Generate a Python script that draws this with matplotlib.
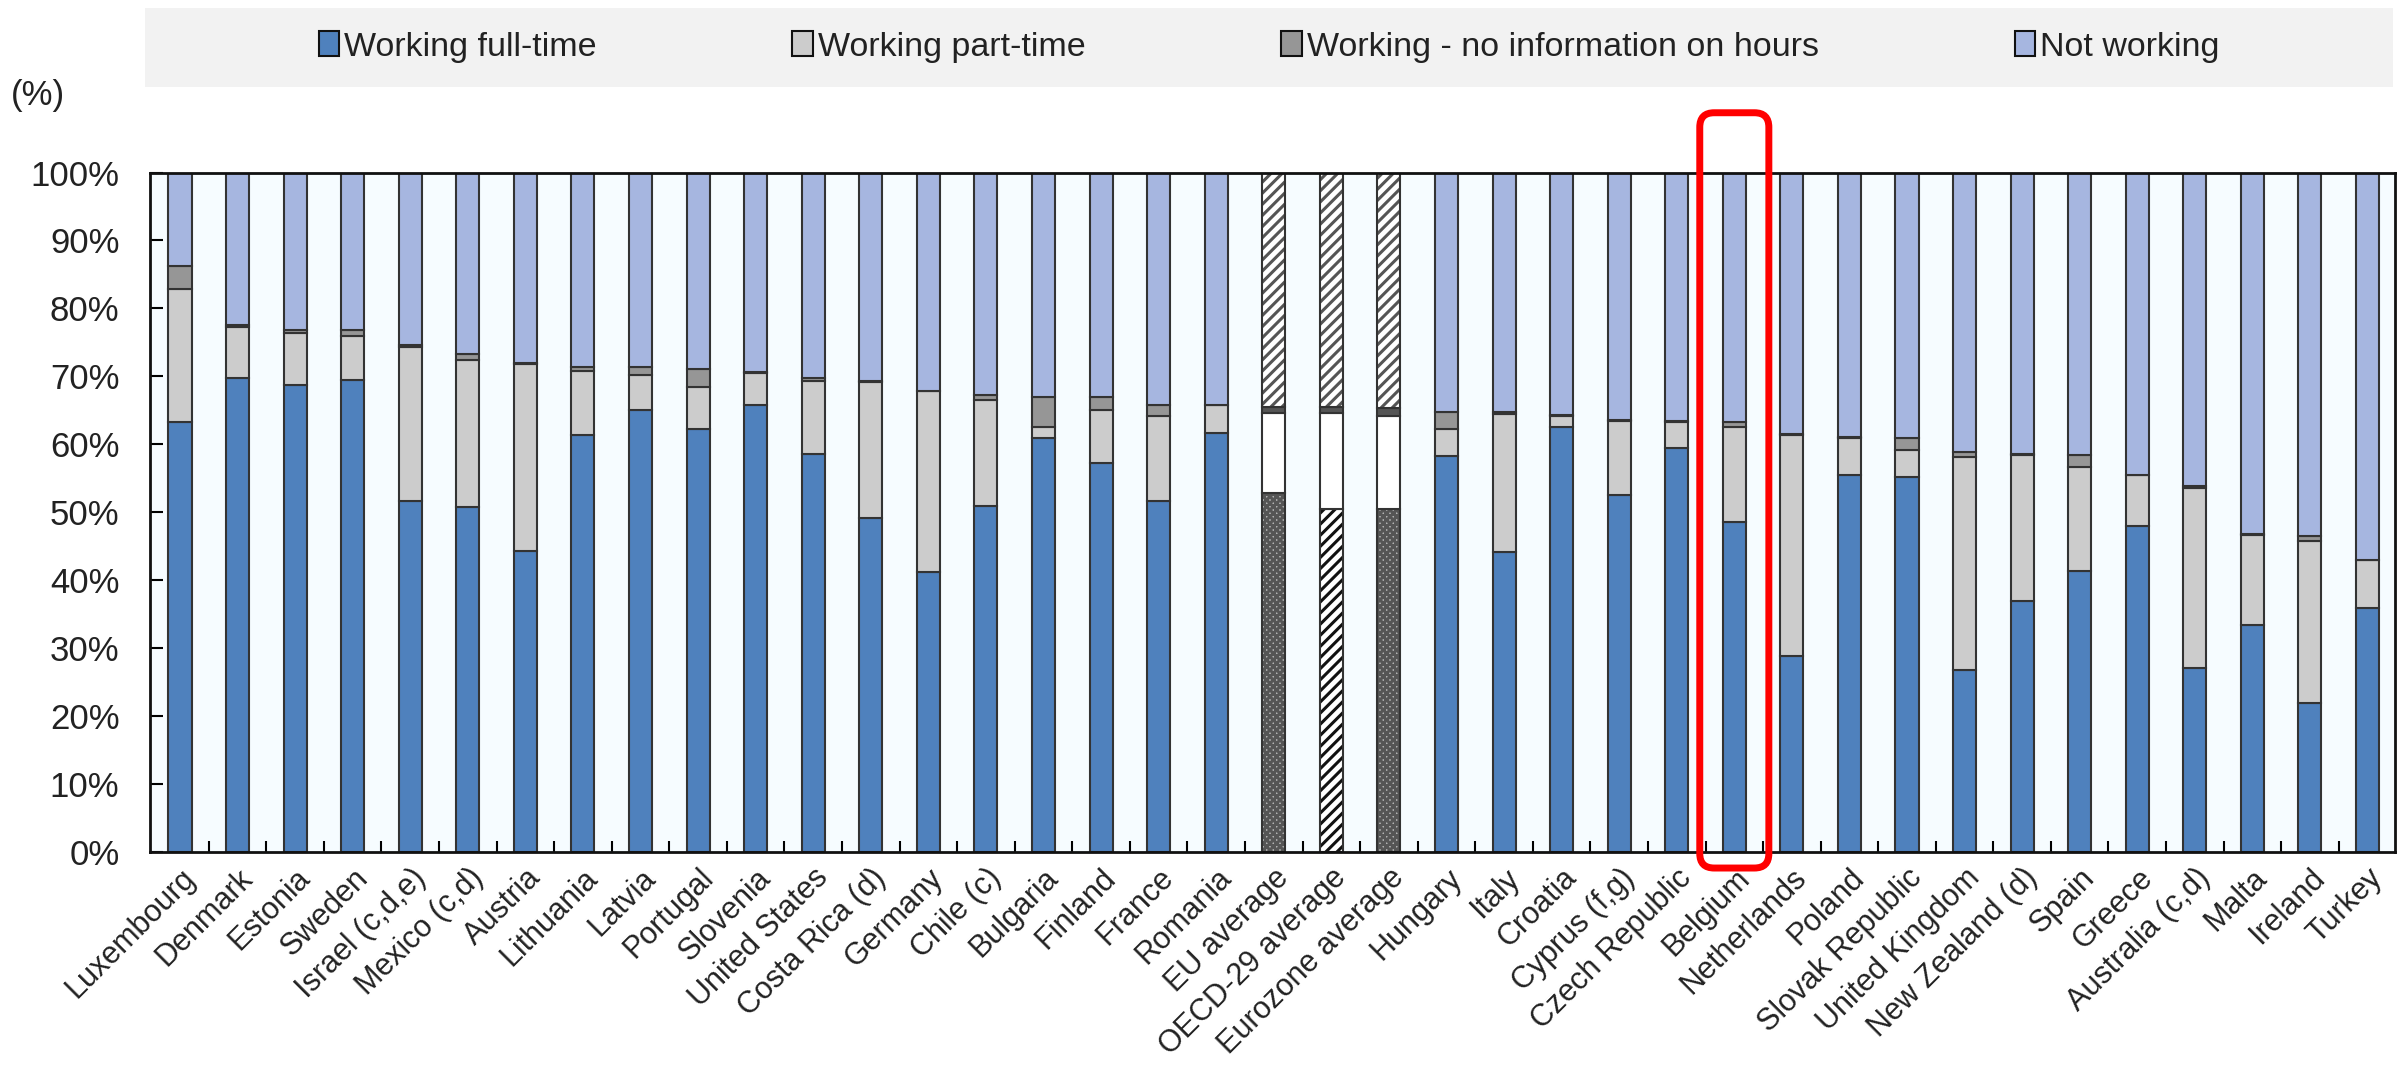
import matplotlib
matplotlib.use("Agg")
import matplotlib.pyplot as plt
from matplotlib.patches import FancyBboxPatch, Rectangle, Patch
import numpy as np

plt.rcParams['font.family'] = ['Liberation Sans', 'DejaVu Sans']
plt.rcParams['hatch.linewidth'] = 2.2

COUNTRIES = ["Luxembourg", "Denmark", "Estonia", "Sweden", "Israel (c,d,e)", "Mexico (c,d)",
             "Austria", "Lithuania", "Latvia", "Portugal", "Slovenia", "United States",
             "Costa Rica (d)", "Germany", "Chile (c)", "Bulgaria", "Finland", "France",
             "Romania", "EU average", "OECD-29 average", "Eurozone average", "Hungary",
             "Italy", "Croatia", "Cyprus (f,g)", "Czech Republic", "Belgium", "Netherlands",
             "Poland", "Slovak Republic", "United Kingdom", "New Zealand (d)", "Spain",
             "Greece", "Australia (c,d)", "Malta", "Ireland", "Turkey"]

FULL_TIME = [63.2, 69.8, 68.7, 69.5, 51.7, 50.7, 44.3, 61.4, 65.0, 62.3, 65.7, 58.6,
             49.1, 41.2, 50.9, 60.9, 57.3, 51.7, 61.6, 52.8, 50.4, 50.4, 58.2,
             44.1, 62.6, 52.5, 59.4, 48.5, 28.8, 55.4, 55.2, 26.7, 36.9, 41.3,
             47.9, 27.1, 33.4, 21.9, 35.9]
PART_TIME = [19.7, 7.5, 7.6, 6.5, 22.6, 21.7, 27.5, 9.4, 5.2, 6.1, 4.8, 10.7,
             20.0, 26.6, 15.6, 1.6, 7.7, 12.4, 4.1, 11.8, 14.2, 13.7, 4.1,
             20.4, 1.5, 10.9, 3.9, 14.0, 32.6, 5.5, 4.0, 31.4, 21.5, 15.4,
             7.5, 26.5, 13.2, 23.8, 7.0]
NO_INFO = [3.4, 0.2, 0.5, 0.8, 0.3, 0.9, 0.2, 0.6, 1.2, 2.7, 0.2, 0.5,
           0.2, 0.1, 0.7, 4.4, 1.9, 1.7, 0.1, 0.9, 0.9, 1.2, 2.5,
           0.2, 0.2, 0.2, 0.1, 0.7, 0.1, 0.2, 1.7, 0.8, 0.1, 1.7,
           0.1, 0.2, 0.2, 0.8, 0.1]

AVERAGES = ["EU average", "OECD-29 average", "Eurozone average"]
HIGHLIGHT = "Belgium"

C_FULL = "#4F81BD"
C_PART = "#CCCCCC"
C_NOINFO = "#969696"
C_NOT = "#A6B6E0"
EDGE = "#333333"

full = np.array(FULL_TIME)
part = np.array(PART_TIME)
noinfo = np.array(NO_INFO)
notw = 100 - full - part - noinfo
x = np.arange(len(COUNTRIES))
w = 0.4

fig = plt.figure(figsize=(23.97, 10.85), dpi=100)
ax = fig.add_axes([0.0626, 0.215, 0.9364, 0.626])
ax.set_facecolor("#F6FCFF")

bottoms = [np.zeros(len(x)), full, full + part, full + part + noinfo]
values = [full, part, noinfo, notw]
colors = [C_FULL, C_PART, C_NOINFO, C_NOT]

for i, name in enumerate(COUNTRIES):
    if name in AVERAGES:
        # patterned bars for the averages
        if name == "OECD-29 average":
            ft_face, ft_hatch, ft_hc = "white", "///", "#111111"
        else:
            ft_face, ft_hatch, ft_hc = "#B4B4B4", "xxxxx", "#555555"
        styles = [(ft_face, ft_hatch, ft_hc), ("white", None, EDGE),
                  ("#555555", None, EDGE), ("white", "///", "#555555")]
        for k in range(4):
            fc, hatch, hc = styles[k]
            ax.bar(x[i], values[k][i], w, bottom=bottoms[k][i], color=fc,
                   hatch=hatch, edgecolor=hc, linewidth=0)
            ax.bar(x[i], values[k][i], w, bottom=bottoms[k][i], fill=False,
                   edgecolor=EDGE, linewidth=1.5)
    else:
        for k in range(4):
            ax.bar(x[i], values[k][i], w, bottom=bottoms[k][i], color=colors[k],
                   edgecolor=EDGE, linewidth=1.5)

ax.set_xlim(-0.52, len(x) - 0.53)
ax.set_ylim(0, 100)
ax.set_yticks(np.arange(0, 101, 10))
ax.set_yticklabels([f"{v}%" for v in range(0, 101, 10)], fontsize=25, color="#222222")
ax.set_xticks(x)
ax.set_xticklabels(COUNTRIES, rotation=45, ha="right", va="top",
                   rotation_mode="anchor", fontsize=22, color="#222222")
ax.set_xticks(x[:-1] + 0.5, minor=True)
ax.tick_params(axis="x", which="major", length=0, pad=8)
ax.tick_params(axis="x", which="minor", direction="in", length=8, width=1.5)
ax.tick_params(axis="y", direction="in", length=9, width=1.5, pad=22)
for s in ax.spines.values():
    s.set_linewidth(2)
    s.set_color("#111111")

# red highlight box
bi = COUNTRIES.index(HIGHLIGHT)
box = FancyBboxPatch((x[bi] - 0.6, -2.4), 1.2, 111.2,
                     boxstyle="round,pad=0,rounding_size=0.25", mutation_aspect=8.5,
                     fill=False, edgecolor="#FF0000", linewidth=5, clip_on=False,
                     transform=ax.transData, zorder=10)
ax.add_patch(box)

# legend band
fig.patches.append(Rectangle((145 / 2397, 1 - 87 / 1085), (2393 - 145) / 2397, 79 / 1085,
                             transform=fig.transFigure, facecolor="#F2F2F2",
                             edgecolor="none", zorder=0))
handles = [Patch(facecolor=C_FULL, edgecolor="#111111", linewidth=1.5),
           Patch(facecolor=C_PART, edgecolor="#111111", linewidth=1.5),
           Patch(facecolor=C_NOINFO, edgecolor="#111111", linewidth=1.5),
           Patch(facecolor=C_NOT, edgecolor="#111111", linewidth=1.5)]
labels = ["Working full-time", "Working part-time", "Working - no information on hours",
          "Not working"]
fig.legend(handles, labels, loc="center", bbox_to_anchor=(1269 / 2397, 1 - 47 / 1085),
           ncol=4, frameon=False, fontsize=24.5, handlelength=0.6, handleheight=0.75,
           handletextpad=0.15, columnspacing=5.75, labelcolor="#222222")

fig.text(38 / 2397, 1 - 95 / 1085, "(%)", fontsize=25, ha="center", va="center",
         color="#222222")

fig.savefig("out.png", dpi=100)
